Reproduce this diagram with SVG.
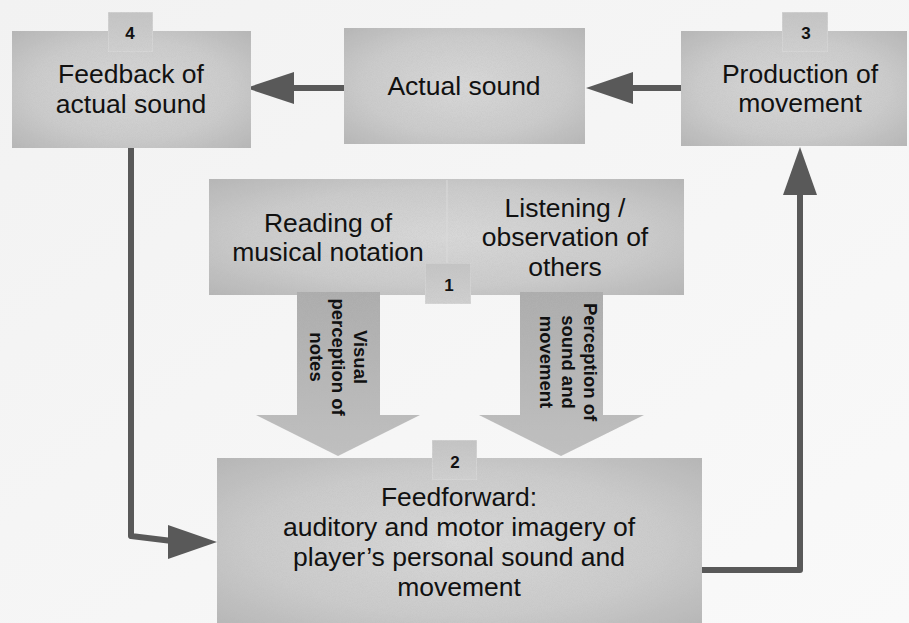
<svg xmlns="http://www.w3.org/2000/svg" width="909" height="623" viewBox="0 0 909 623">
<defs>
<radialGradient id="boxg" cx="50%" cy="50%" r="70%">
<stop offset="0" stop-color="#d8d8d8"/>
<stop offset="0.6" stop-color="#cbcbcb"/>
<stop offset="1" stop-color="#b6b6b6"/>
</radialGradient>
<linearGradient id="badgeg" x1="0" y1="0" x2="0" y2="1">
<stop offset="0" stop-color="#c4c4c4"/>
<stop offset="1" stop-color="#d0d0d0"/>
</linearGradient>
<linearGradient id="downg" x1="0" y1="0" x2="0" y2="1">
<stop offset="0" stop-color="#acacac"/>
<stop offset="1" stop-color="#c0c0c0"/>
</linearGradient>
<linearGradient id="bgg" x1="0" y1="0" x2="1" y2="1">
<stop offset="0" stop-color="#f2f2f2"/>
<stop offset="1" stop-color="#f9f9f9"/>
</linearGradient>
<filter id="noise" x="0" y="0" width="100%" height="100%">
<feTurbulence type="fractalNoise" baseFrequency="1.2" numOctaves="1" seed="3" result="t"/>
<feColorMatrix in="t" type="matrix" values="0 0 0 0 0.5  0 0 0 0 0.5  0 0 0 0 0.5  0 0 0 0.6 -0.22" result="n"/>
<feComposite in="n" in2="SourceGraphic" operator="in" result="nc"/>
<feMerge><feMergeNode in="SourceGraphic"/><feMergeNode in="nc"/></feMerge>
</filter>
</defs>
<style>
.box{fill:url(#boxg);filter:url(#noise)}
.badge{fill:url(#badgeg);stroke:#dcdcdc;stroke-width:1;filter:url(#noise)}
.down{fill:url(#downg);filter:url(#noise)}
.t{font-family:"Liberation Sans",Arial,sans-serif;font-size:26.5px;fill:#111;text-anchor:middle}
.n{font-family:"Liberation Sans",Arial,sans-serif;font-size:17px;font-weight:bold;fill:#111;text-anchor:middle}
.v{font-family:"Liberation Sans",Arial,sans-serif;font-size:18.5px;font-weight:bold;fill:#111;text-anchor:middle}
.c{fill:none;stroke:#595959;stroke-width:6;stroke-linejoin:round}
.h{fill:#595959}
</style>
<rect width="909" height="623" fill="url(#bgg)"/>

<g id="connectors">
<polyline class="c" points="294,88 344,88"/>
<polygon class="h" points="246,88 294,72 294,104"/>
<polyline class="c" points="633,88 681,88"/>
<polygon class="h" points="586,88 633,72 633,104"/>
<polyline class="c" points="131,148 131,536 172,541"/>
<polygon class="h" points="168,525 217,542 168,559"/>
<polyline class="c" points="702,570 800,570 800,192"/>
<polygon class="h" points="800,147 783,195 817,195"/>
</g>

<g id="node-feedback">
<rect class="box" x="12" y="31" width="239" height="117"/>
<text class="t" x="131" y="83">Feedback of</text>
<text class="t" x="131" y="113">actual sound</text>
</g>
<g id="badge-4">
<rect class="badge" x="108" y="12" width="45" height="40"/>
<text class="n" x="130" y="39">4</text>
</g>

<g id="node-actual">
<rect class="box" x="344" y="28" width="241" height="116"/>
<text class="t" x="464" y="95">Actual sound</text>
</g>

<g id="node-production">
<rect class="box" x="681" y="31" width="226" height="115"/>
<text class="t" x="800" y="83">Production of</text>
<text class="t" x="800" y="112">movement</text>
</g>
<g id="badge-3">
<rect class="badge" x="782" y="12" width="46" height="40"/>
<text class="n" x="806" y="39">3</text>
</g>

<g id="node-perception">
<rect class="box" x="209" y="179" width="475" height="116"/>
<line x1="447" y1="180" x2="447" y2="294" stroke="#dadada" stroke-width="1"/>
<text class="t" x="328" y="232">Reading of</text>
<text class="t" x="328" y="261">musical notation</text>
<text class="t" x="565" y="217">Listening /</text>
<text class="t" x="565" y="246">observation of</text>
<text class="t" x="565" y="276">others</text>
</g>

<g id="arrow-visual">
<polygon class="down" points="297,292 380,292 380,415 420,415 338,456 256,415 297,415"/>
<text class="v" transform="translate(338,357) rotate(90)"><tspan x="0" y="-16">Visual</tspan><tspan x="0" y="6">perception of</tspan><tspan x="0" y="28">notes</tspan></text>
</g>
<g id="arrow-sound">
<polygon class="down" points="520,292 603,292 603,415 644,415 561,456 479,415 520,415"/>
<text class="v" transform="translate(568,362) rotate(90)"><tspan x="0" y="-16">Perception of</tspan><tspan x="0" y="6">sound and</tspan><tspan x="0" y="28">movement</tspan></text>
</g>

<g id="badge-1">
<rect class="badge" x="425" y="263" width="46" height="41"/>
<text class="n" x="449" y="291">1</text>
</g>

<g id="node-feedforward">
<rect class="box" x="217" y="458" width="485" height="170"/>
<text class="t" x="459" y="506">Feedforward:</text>
<text class="t" x="459" y="536">auditory and motor imagery of</text>
<text class="t" x="459" y="566">player’s personal sound and</text>
<text class="t" x="459" y="596">movement</text>
</g>
<g id="badge-2">
<rect class="badge" x="432" y="440" width="45" height="40"/>
<text class="n" x="455" y="468">2</text>
</g>
</svg>
